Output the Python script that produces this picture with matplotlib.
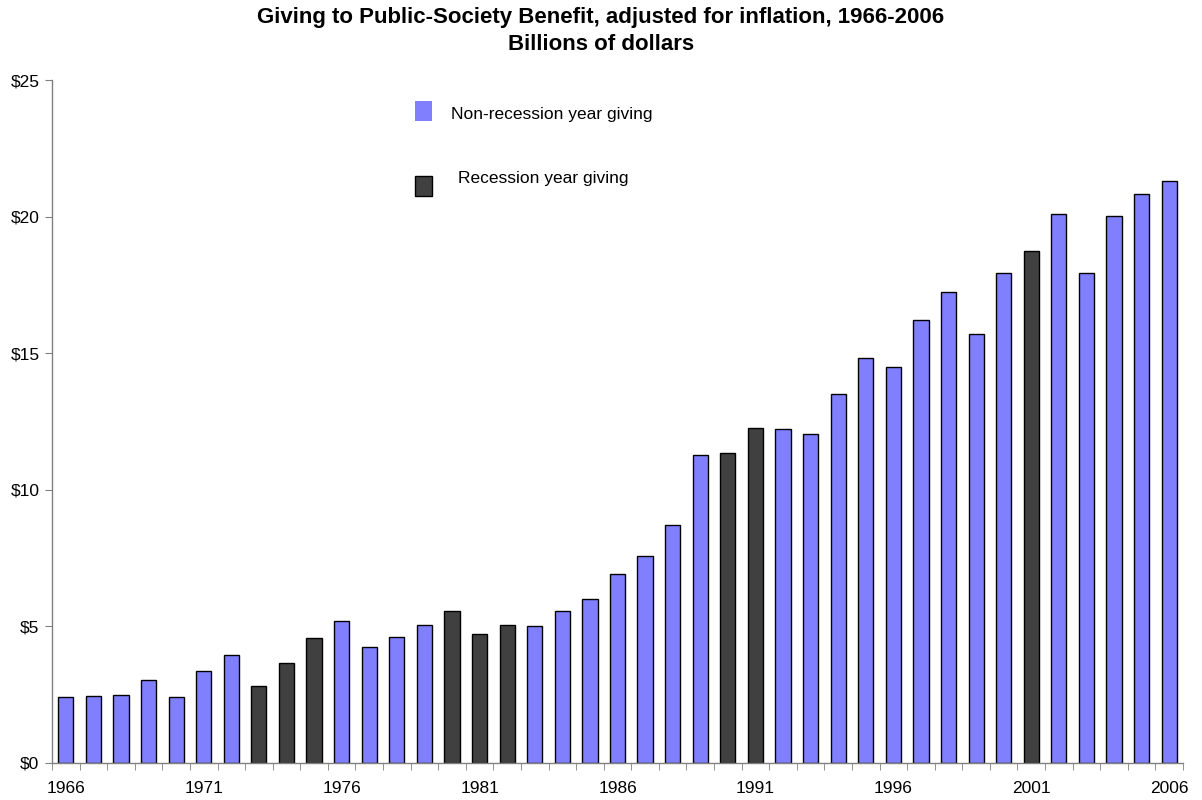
import matplotlib
matplotlib.use("Agg")
import matplotlib.pyplot as plt
from matplotlib.patches import Rectangle
from matplotlib.ticker import FixedLocator, FuncFormatter

plt.rcParams['font.family'] = ['Liberation Sans', 'DejaVu Sans']

years = list(range(1966, 2007))
values = [2.41, 2.46, 2.50, 3.05, 2.41, 3.36, 3.96, 2.81, 3.67, 4.56,
          5.20, 4.26, 4.61, 5.05, 5.56, 4.71, 5.05, 5.00, 5.56, 6.01,
          6.91, 7.57, 8.71, 11.26, 11.33, 12.26, 12.21, 12.05, 13.51, 14.82,
          14.51, 16.21, 17.23, 15.72, 17.92, 18.73, 20.08, 17.92, 20.02, 20.83,
          21.31]
recession_years = [1973, 1974, 1975, 1980, 1981, 1982, 1990, 1991, 2001]
label_years = [1966, 1971, 1976, 1981, 1986, 1991, 1996, 2001, 2006]
yticks = [0, 5, 10, 15, 20, 25]

blue = '#8080FF'
dark = '#404040'

fig = plt.figure(figsize=(12.02, 8.0), dpi=100)
ax = fig.add_axes([52/1202, 37/800, (1183-52)/1202, (763-80)/800])

colors = [dark if y in recession_years else blue for y in years]
ax.bar(years, values, width=0.55, color=colors, edgecolor='black', linewidth=1.0, zorder=2)

ax.set_xlim(years[0] - 0.5, years[-1] + 0.5)
ax.set_ylim(0, 25)

ax.set_yticks(yticks)
ax.yaxis.set_major_formatter(FuncFormatter(lambda v, p: f"${int(v)}"))
ax.tick_params(axis='y', labelsize=12.5, length=5, color='#808080', direction='out', pad=4)

# x: ticks between categories, labels at selected category centers
ax.set_xticks(label_years)
ax.set_xticklabels([str(y) for y in label_years])
ax.tick_params(axis='x', which='major', length=0, labelsize=12.5, pad=13)
ax.xaxis.set_minor_locator(FixedLocator([y - 0.5 for y in years] + [years[-1] + 0.5]))
ax.tick_params(axis='x', which='minor', length=5, color='#808080', direction='out')

for s in ['top', 'right']:
    ax.spines[s].set_visible(False)
for s in ['left', 'bottom']:
    ax.spines[s].set_color('#808080')
    ax.spines[s].set_linewidth(1.0)

fig.text(0.5, 1 - 18/800, "Giving to Public-Society Benefit, adjusted for inflation, 1966-2006",
         ha='center', va='center', fontsize=16, fontweight='bold')
fig.text(0.5, 1 - 45/800, "Billions of dollars",
         ha='center', va='center', fontsize=16, fontweight='bold')

# legend (manual, as in the original)
fig.patches.append(Rectangle((415/1202, 1 - 121/800), 17/1202, 20/800,
                             transform=fig.transFigure, facecolor=blue, edgecolor='none'))
fig.text(451/1202, 1 - 114/800, "Non-recession year giving", ha='left', va='center', fontsize=12.5)
fig.patches.append(Rectangle((415/1202, 1 - 196/800), 17/1202, 20/800,
                             transform=fig.transFigure, facecolor=dark, edgecolor='black', linewidth=1.0))
fig.text(458/1202, 1 - 179/800, "Recession year giving", ha='left', va='center', fontsize=12.5)

fig.savefig("out.png", dpi=100)
